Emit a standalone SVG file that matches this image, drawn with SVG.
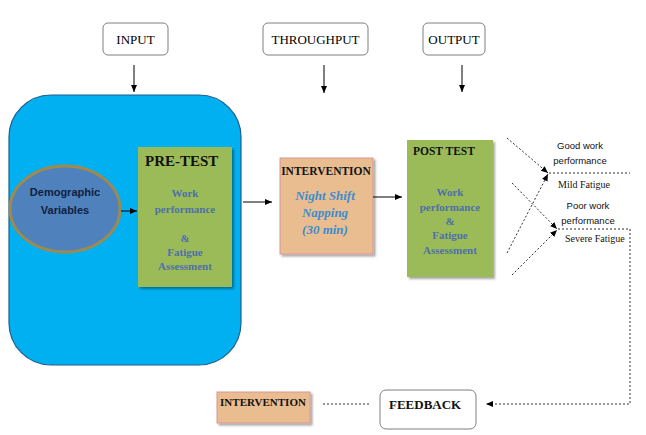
<svg xmlns="http://www.w3.org/2000/svg" width="646" height="435" viewBox="0 0 646 435">
<defs>
<marker id="arr" markerWidth="8" markerHeight="8" refX="7" refY="4" orient="auto" markerUnits="userSpaceOnUse">
<path d="M0,1 L7,4 L0,7 Z" fill="#000"/>
</marker>
<filter id="sh" x="-10%" y="-10%" width="130%" height="130%">
<feDropShadow dx="2" dy="2" stdDeviation="1.2" flood-color="#000" flood-opacity="0.35"/>
</filter>
</defs>
<style>
.hdr{fill:#fff;stroke:#7f7f7f;stroke-width:1}
.serif{font-family:"Liberation Serif","Times New Roman",serif}
.sans{font-family:"Liberation Sans",Arial,sans-serif}
.ln{stroke:#000;stroke-width:1;fill:none}
.dash{stroke:#333;stroke-width:1;fill:none;stroke-dasharray:2,2}
.green{fill:#9bbb59;filter:url(#sh)}
.tan{fill:#e9bd8f;stroke:#d99694;stroke-width:1;filter:url(#sh)}
.btxt{fill:#4f6fa8;font-weight:bold;font-size:11px;text-anchor:middle}
</style>
<rect width="646" height="435" fill="#fff"/>

<g id="input">
<rect class="hdr" x="103" y="23" width="65" height="32" rx="5"/>
<text class="serif" x="135.5" y="44" font-size="13" text-anchor="middle">INPUT</text>
</g>
<g id="throughput">
<rect class="hdr" x="263" y="23" width="105" height="32" rx="5"/>
<text class="serif" x="315.5" y="44" font-size="13" text-anchor="middle">THROUGHPUT</text>
</g>
<g id="output">
<rect class="hdr" x="423" y="23" width="62" height="32" rx="5"/>
<text class="serif" x="454" y="44" font-size="13" text-anchor="middle">OUTPUT</text>
</g>

<g id="input-box">
<rect x="9" y="95" width="232" height="270" rx="42" fill="#00b0f0" stroke="#1f5f8b" stroke-width="1.2"/>
</g>

<g id="demographic">
<ellipse cx="65" cy="209" rx="55" ry="43" fill="#4f81bd" stroke="#9c8a50" stroke-width="3"/>
<text class="sans" x="65" y="196" font-size="11" font-weight="bold" fill="#102040" text-anchor="middle">Demographic</text>
<text class="sans" x="65" y="214" font-size="11" font-weight="bold" fill="#102040" text-anchor="middle">Variables</text>
</g>

<g id="pre-test">
<rect class="green" x="138" y="147" width="94" height="140"/>
<text class="serif" x="145" y="166" font-size="15" font-weight="bold" fill="#111">PRE-TEST</text>
<text class="serif btxt" x="185" y="197">Work</text>
<text class="serif btxt" x="185" y="213">performance</text>
<text class="serif btxt" x="185" y="242">&amp;</text>
<text class="serif btxt" x="185" y="256">Fatigue</text>
<text class="serif btxt" x="185" y="270">Assessment</text>
</g>

<g id="intervention">
<rect class="tan" x="280" y="158" width="93" height="96"/>
<text class="serif" x="326" y="175" font-size="11.5" font-weight="bold" fill="#111" text-anchor="middle">INTERVENTION</text>
<text class="serif" x="325" y="200" font-size="13" font-weight="bold" font-style="italic" fill="#3c8dd0" text-anchor="middle">Night Shift</text>
<text class="serif" x="325" y="217" font-size="13" font-weight="bold" font-style="italic" fill="#3c8dd0" text-anchor="middle">Napping</text>
<text class="serif" x="325" y="234" font-size="13" font-weight="bold" font-style="italic" fill="#3c8dd0" text-anchor="middle">(30 min)</text>
</g>

<g id="post-test">
<rect class="green" x="407" y="140" width="86" height="137"/>
<text class="serif" x="413" y="155" font-size="11.5" font-weight="bold" fill="#111">POST TEST</text>
<text class="serif btxt" x="450" y="196">Work</text>
<text class="serif btxt" x="450" y="211">performance</text>
<text class="serif btxt" x="450" y="225">&amp;</text>
<text class="serif btxt" x="450" y="239">Fatigue</text>
<text class="serif btxt" x="450" y="254">Assessment</text>
</g>

<g id="outcomes">
<text class="sans" x="580" y="149" font-size="9.5" text-anchor="middle" fill="#111">Good work</text>
<text class="sans" x="580" y="164" font-size="9.5" text-anchor="middle" fill="#111">performance</text>
<text class="serif" x="558" y="188" font-size="10" fill="#111">Mild Fatigue</text>
<text class="sans" x="588" y="209" font-size="9.5" text-anchor="middle" fill="#111">Poor work</text>
<text class="sans" x="588" y="224" font-size="9.5" text-anchor="middle" fill="#111">performance</text>
<text class="serif" x="565" y="242" font-size="10" fill="#111">Severe Fatigue</text>
</g>

<g id="intervention-2">
<rect class="tan" x="217" y="392" width="93" height="31"/>
<text class="serif" x="263" y="406" font-size="11" font-weight="bold" fill="#111" text-anchor="middle">INTERVENTION</text>
</g>

<g id="feedback">
<rect class="hdr" x="380" y="390" width="96" height="39" rx="6"/>
<text class="serif" x="389" y="409" font-size="13" font-weight="bold" fill="#111">FEEDBACK</text>
</g>

<g id="connectors">
<line class="ln" x1="134" y1="65" x2="134" y2="92" marker-end="url(#arr)"/>
<line class="ln" x1="324" y1="65" x2="324" y2="93" marker-end="url(#arr)"/>
<line class="ln" x1="462" y1="65" x2="462" y2="92" marker-end="url(#arr)"/>
<line class="ln" x1="121" y1="211" x2="137" y2="211" marker-end="url(#arr)"/>
<line class="ln" x1="243" y1="202" x2="272" y2="202" marker-end="url(#arr)"/>
<line class="ln" x1="373" y1="197" x2="402" y2="197" marker-end="url(#arr)"/>
<line class="dash" x1="507" y1="138" x2="548" y2="173" marker-end="url(#arr)"/>
<line class="dash" x1="507" y1="253" x2="548" y2="174" marker-end="url(#arr)"/>
<line class="dash" x1="512" y1="183" x2="557" y2="229" marker-end="url(#arr)"/>
<line class="dash" x1="512" y1="275" x2="557" y2="230" marker-end="url(#arr)"/>
<line class="dash" x1="549" y1="173" x2="630" y2="173"/>
<polyline class="dash" points="558,229 630,229 630,404 486,404" marker-end="url(#arr)"/>
<line class="dash" x1="323" y1="404" x2="370" y2="404"/>
</g>
</svg>
